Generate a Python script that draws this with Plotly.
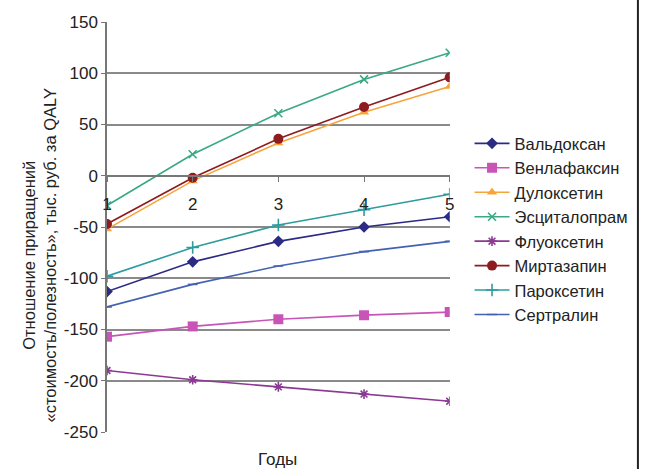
import plotly.graph_objects as go

years = [1, 2, 3, 4, 5]
names = ["Вальдоксан", "Венлафаксин", "Дулоксетин", "Эсциталопрам",
         "Флуоксетин", "Миртазапин", "Пароксетин", "Сертралин"]
valdoxan = [-113, -84, -64, -50, -40]
venlafaxin = [-157, -147, -140, -136, -133]
duloxetin = [-52, -5, 32, 62, 87]
escitalopram = [-29, 21, 61, 94, 120]
fluoxetin = [-190, -199, -206, -213, -220]
mirtazapin = [-47, -2, 36, 67, 96]
paroxetin = [-98, -70, -48, -33, -18]
sertralin = [-128, -106, -88, -74, -64]
series = [valdoxan, venlafaxin, duloxetin, escitalopram, fluoxetin, mirtazapin, paroxetin, sertralin]
y_ticks = [150, 100, 50, 0, -50, -100, -150, -200, -250]
y_tick_text = ["150", "100", "50", "0", "-50", "-100", "-150", "-200", "-250"]

colors = ["#2B2A85", "#C954B8", "#F7A43B", "#3AA985", "#8A3A92", "#8E1B1E", "#2E9C9E", "#4461B3"]
symbols = ["diamond", "square", "triangle-up", "x-thin-open", "asterisk-open", "circle", "cross-thin-open", "line-ew-open"]
sizes = [9, 10, 9, 8, 8, 10, 9, 7]

fig = go.Figure()
for i, (n, ys) in enumerate(zip(names, series)):
    fig.add_trace(go.Scatter(
        x=years, y=ys, name=n, mode="lines+markers", legendgroup=n,
        line=dict(color=colors[i], width=1.6),
        marker=dict(symbol=symbols[i], size=sizes[i], color=colors[i],
                    line=dict(color=colors[i], width=1.6 if "open" in symbols[i] else 0)),
    ))

W = 645 - 107 - 10  # paper width in px

fig.update_layout(
    width=645, height=469,
    margin=dict(l=107, r=10, t=22, b=37),
    paper_bgcolor="white", plot_bgcolor="white",
    font=dict(family="Liberation Sans, Arial, sans-serif", size=17, color="#222"),
    showlegend=True,
    legend=dict(x=(473 - 107) / W, y=0.746, xanchor="left", yanchor="top",
                font=dict(size=16.5, color="#222"), itemwidth=35,
                tracegroupgap=0, bgcolor="rgba(0,0,0,0)"),
    xaxis=dict(domain=[0, 346 / W], range=[1, 5], tickvals=years,
               ticktext=[str(v) for v in years],
               anchor="free", position=0.625, showgrid=False, zeroline=False,
               showline=True, linecolor="#777", linewidth=1.5,
               ticks="outside", ticklen=5, tickcolor="#777", ticklabelstandoff=8,
               tickfont=dict(size=17, color="#222")),
    yaxis=dict(range=[-250, 150], tickvals=y_ticks, ticktext=y_tick_text,
               showgrid=True, gridcolor="#8a8a8a",
               gridwidth=1.5, zeroline=False, showline=True, linecolor="#777",
               linewidth=1.5, ticks="outside", ticklen=4, tickcolor="#777",
               tickfont=dict(size=17, color="#222")),
    annotations=[
        dict(text="Отношение приращений<br>«стоимость/полезность», тыс. руб. за QALY",
             xref="paper", yref="paper", x=(39 - 107) / W, y=0.432, textangle=-90,
             xanchor="center", yanchor="middle",
             showarrow=False, font=dict(size=16.5, color="#222"), align="center"),
        dict(text="Годы", xref="paper", yref="paper", x=(279 - 107) / W, y=-0.068,
             xanchor="center", yanchor="middle",
             showarrow=False, font=dict(size=17, color="#222")),
    ],
    shapes=[dict(type="line", xref="paper", yref="paper",
                 x0=(643 - 107) / W, x1=(643 - 107) / W,
                 y0=-0.1, y1=1.06, line=dict(color="#222", width=2))],
)

fig.write_html("out.html")
